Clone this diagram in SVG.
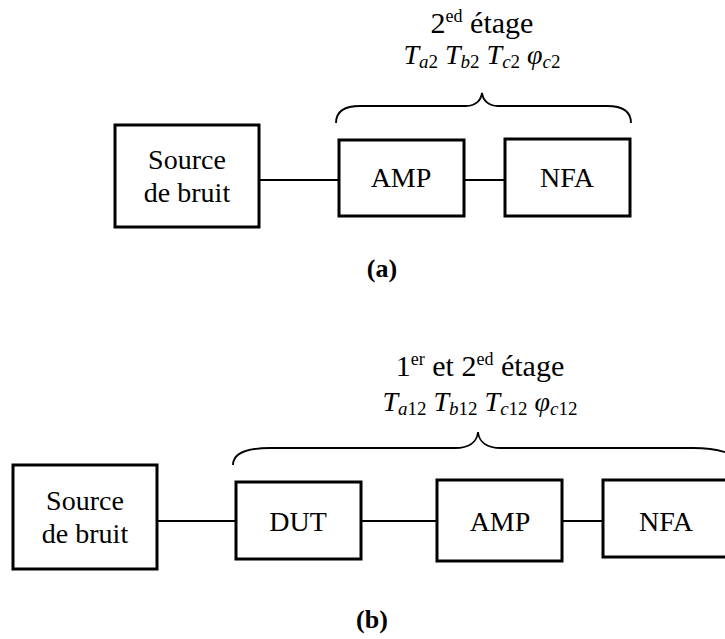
<svg xmlns="http://www.w3.org/2000/svg" width="725" height="639" viewBox="0 0 725 639" font-family="'Liberation Serif', 'Times New Roman', serif">
<style>
  .box { fill: #fff; stroke: #000; stroke-width: 3; }
  .wire { stroke: #000; stroke-width: 2.2; fill: none; }
  .brace { stroke: #000; stroke-width: 1.8; fill: none; }
  text { font-family: "Liberation Serif", "Times New Roman", serif; fill: #000; }
  .lbl { font-size: 28px; text-anchor: middle; }
  .ttl { font-size: 30px; text-anchor: middle; }
  .par { font-size: 28px; font-style: italic; text-anchor: middle; }
  .sub { font-size: 19px; }
  .up { font-style: normal; }
  .sup { font-size: 18px; }
  .cap { font-size: 26px; font-weight: bold; text-anchor: middle; }
</style>
<rect width="725" height="639" fill="#fff"/>

<!-- (a) -->
<g id="connectors-a">
  <line class="wire" x1="259" y1="180" x2="339" y2="180"/>
  <line class="wire" x1="464" y1="180" x2="505" y2="180"/>
  <path class="brace" d="M336,123 C336,112 344,106 360,106 L466,106 C476,106 481,100 482,93 C483,100 488,106 498,106 L607,106 C623,106 631,112 631,123"/>
</g>
<g id="a-source">
  <rect class="box" x="115" y="125" width="144" height="102"/>
  <text class="lbl" x="187" y="169">Source</text>
  <text class="lbl" x="187" y="202">de bruit</text>
</g>
<g id="a-amp">
  <rect class="box" x="339" y="140" width="125" height="76"/>
  <text class="lbl" x="401" y="187">AMP</text>
</g>
<g id="a-nfa">
  <rect class="box" x="505" y="139" width="125" height="77"/>
  <text class="lbl" x="567" y="187">NFA</text>
</g>
<g id="a-title">
  <text class="ttl" x="482" y="33">2<tspan class="sup" dy="-11">ed</tspan><tspan dy="11"> étage</tspan></text>
  <text class="par" x="482" y="64">T<tspan class="sub" dy="4">a<tspan class="up">2</tspan></tspan><tspan dy="-4"> T</tspan><tspan class="sub" dy="4">b<tspan class="up">2</tspan></tspan><tspan dy="-4"> T</tspan><tspan class="sub" dy="4">c<tspan class="up">2</tspan></tspan><tspan dy="-4"> φ</tspan><tspan class="sub" dy="4">c<tspan class="up">2</tspan></tspan></text>
</g>
<text class="cap" x="382" y="277">(a)</text>

<!-- (b) -->
<g id="connectors-b">
  <line class="wire" x1="157" y1="521" x2="236" y2="521"/>
  <line class="wire" x1="361" y1="521" x2="437" y2="521"/>
  <line class="wire" x1="562" y1="521" x2="603" y2="521"/>
  <path class="brace" d="M233,465 C233,454 245,448 270,448 L455,448 C469,448 477,442 478,432 C479,442 487,448 501,448 L693,448 C722,448 740,456 745,465"/>
</g>
<g id="b-source">
  <rect class="box" x="13" y="465" width="144" height="104"/>
  <text class="lbl" x="85" y="510">Source</text>
  <text class="lbl" x="85" y="543">de bruit</text>
</g>
<g id="b-dut">
  <rect class="box" x="236" y="482" width="125" height="77"/>
  <text class="lbl" x="298" y="531">DUT</text>
</g>
<g id="b-amp">
  <rect class="box" x="437" y="480" width="125" height="81"/>
  <text class="lbl" x="500" y="531">AMP</text>
</g>
<g id="b-nfa">
  <rect class="box" x="603" y="480" width="130" height="77"/>
  <text class="lbl" x="666" y="531">NFA</text>
</g>
<g id="b-title">
  <text class="ttl" x="480" y="376">1<tspan class="sup" dy="-11">er</tspan><tspan dy="11"> et 2</tspan><tspan class="sup" dy="-11">ed</tspan><tspan dy="11"> étage</tspan></text>
  <text class="par" x="480" y="411">T<tspan class="sub" dy="4">a<tspan class="up">12</tspan></tspan><tspan dy="-4"> T</tspan><tspan class="sub" dy="4">b<tspan class="up">12</tspan></tspan><tspan dy="-4"> T</tspan><tspan class="sub" dy="4">c<tspan class="up">12</tspan></tspan><tspan dy="-4"> φ</tspan><tspan class="sub" dy="4">c<tspan class="up">12</tspan></tspan></text>
</g>
<text class="cap" x="372" y="628">(b)</text>
</svg>
